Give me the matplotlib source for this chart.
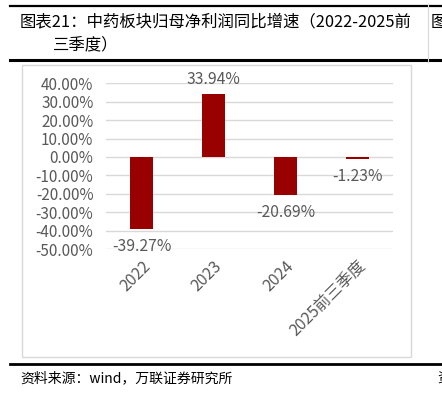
import matplotlib
matplotlib.use("Agg")
import matplotlib.pyplot as plt
from matplotlib.patches import Rectangle
from matplotlib.lines import Line2D

plt.rcParams['font.family'] = ['Noto Sans CJK SC', 'DejaVu Sans']

categories = ['2022', '2023', '2024', '2025前三季度']
values = [-39.27, 33.94, -20.69, -1.23]
yticks = [40, 30, 20, 10, 0, -10, -20, -30, -40, -50]
title_line1 = '图表21：中药板块归母净利润同比增速（2022-2025前'
title_line2 = '三季度）'
source = '资料来源：wind，万联证券研究所'

W, H = 442, 395
fig = plt.figure(figsize=(W / 100, H / 100), dpi=100)

def fx(px):
    return px / W

def fy(py):
    return 1 - py / H

# black rules
for y, lw in [(5.5, 1.6), (59.5, 2.2), (363.5, 2.0)]:
    fig.add_artist(Line2D([fx(10), 1], [fy(y), fy(y)], color='black', lw=lw))

# chart frame
fig.add_artist(Rectangle((fx(22), fy(357)), fx(411) - fx(22), fy(65) - fy(357),
                         fill=False, ec='#d9d9d9', lw=1.0))
fig.add_artist(Line2D([fx(428), fx(428)], [fy(62), fy(5)], color='#d9d9d9', lw=0.8))

fig.text(fx(20), fy(22), title_line1, fontsize=11.8, color='black', va='center', ha='left')
fig.text(fx(53), fy(45), title_line2, fontsize=11.8, color='black', va='center', ha='left')
fig.text(fx(431), fy(22), '图', fontsize=11.8, color='black', va='center', ha='left')
fig.text(fx(20), fy(378), source, fontsize=10, color='black', va='center', ha='left',
         style='italic')
fig.text(fx(437), fy(378), '资', fontsize=10, color='black', va='center', ha='left')

ax = fig.add_axes([fx(106), fy(249), fx(393) - fx(106), fy(83.3) - fy(249)])
x = list(range(len(categories)))
bars = ax.bar(x, values, width=0.32, color='#990000', zorder=3)
ax.set_xlim(-0.5, len(categories) - 0.5)
ax.set_ylim(-50, 40)
ax.set_yticks(yticks)
ax.set_yticklabels([f'{v:.2f}%' for v in yticks])
ax.yaxis.grid(True, color='#d9d9d9', lw=1.0, zorder=0)
ax.set_axisbelow(True)
for s in ax.spines.values():
    s.set_visible(False)
ax.tick_params(axis='y', length=0, pad=9, labelsize=11, labelcolor='#595959')
ax.tick_params(axis='x', length=0, pad=6, labelsize=11.5, labelcolor='#595959')
ax.set_xticks(x)
ax.set_xticklabels(categories, rotation=45, ha='right', va='top', rotation_mode='anchor')

for xi, v in zip(x, values):
    off = 11 if v >= 0 else -12.5
    ax.annotate(f'{v:.2f}%', (xi, v), xytext=(0, off), textcoords='offset points',
                ha='center', va='center', fontsize=11.3, color='#595959', clip_on=False)

fig.savefig('out.png', dpi=100)
